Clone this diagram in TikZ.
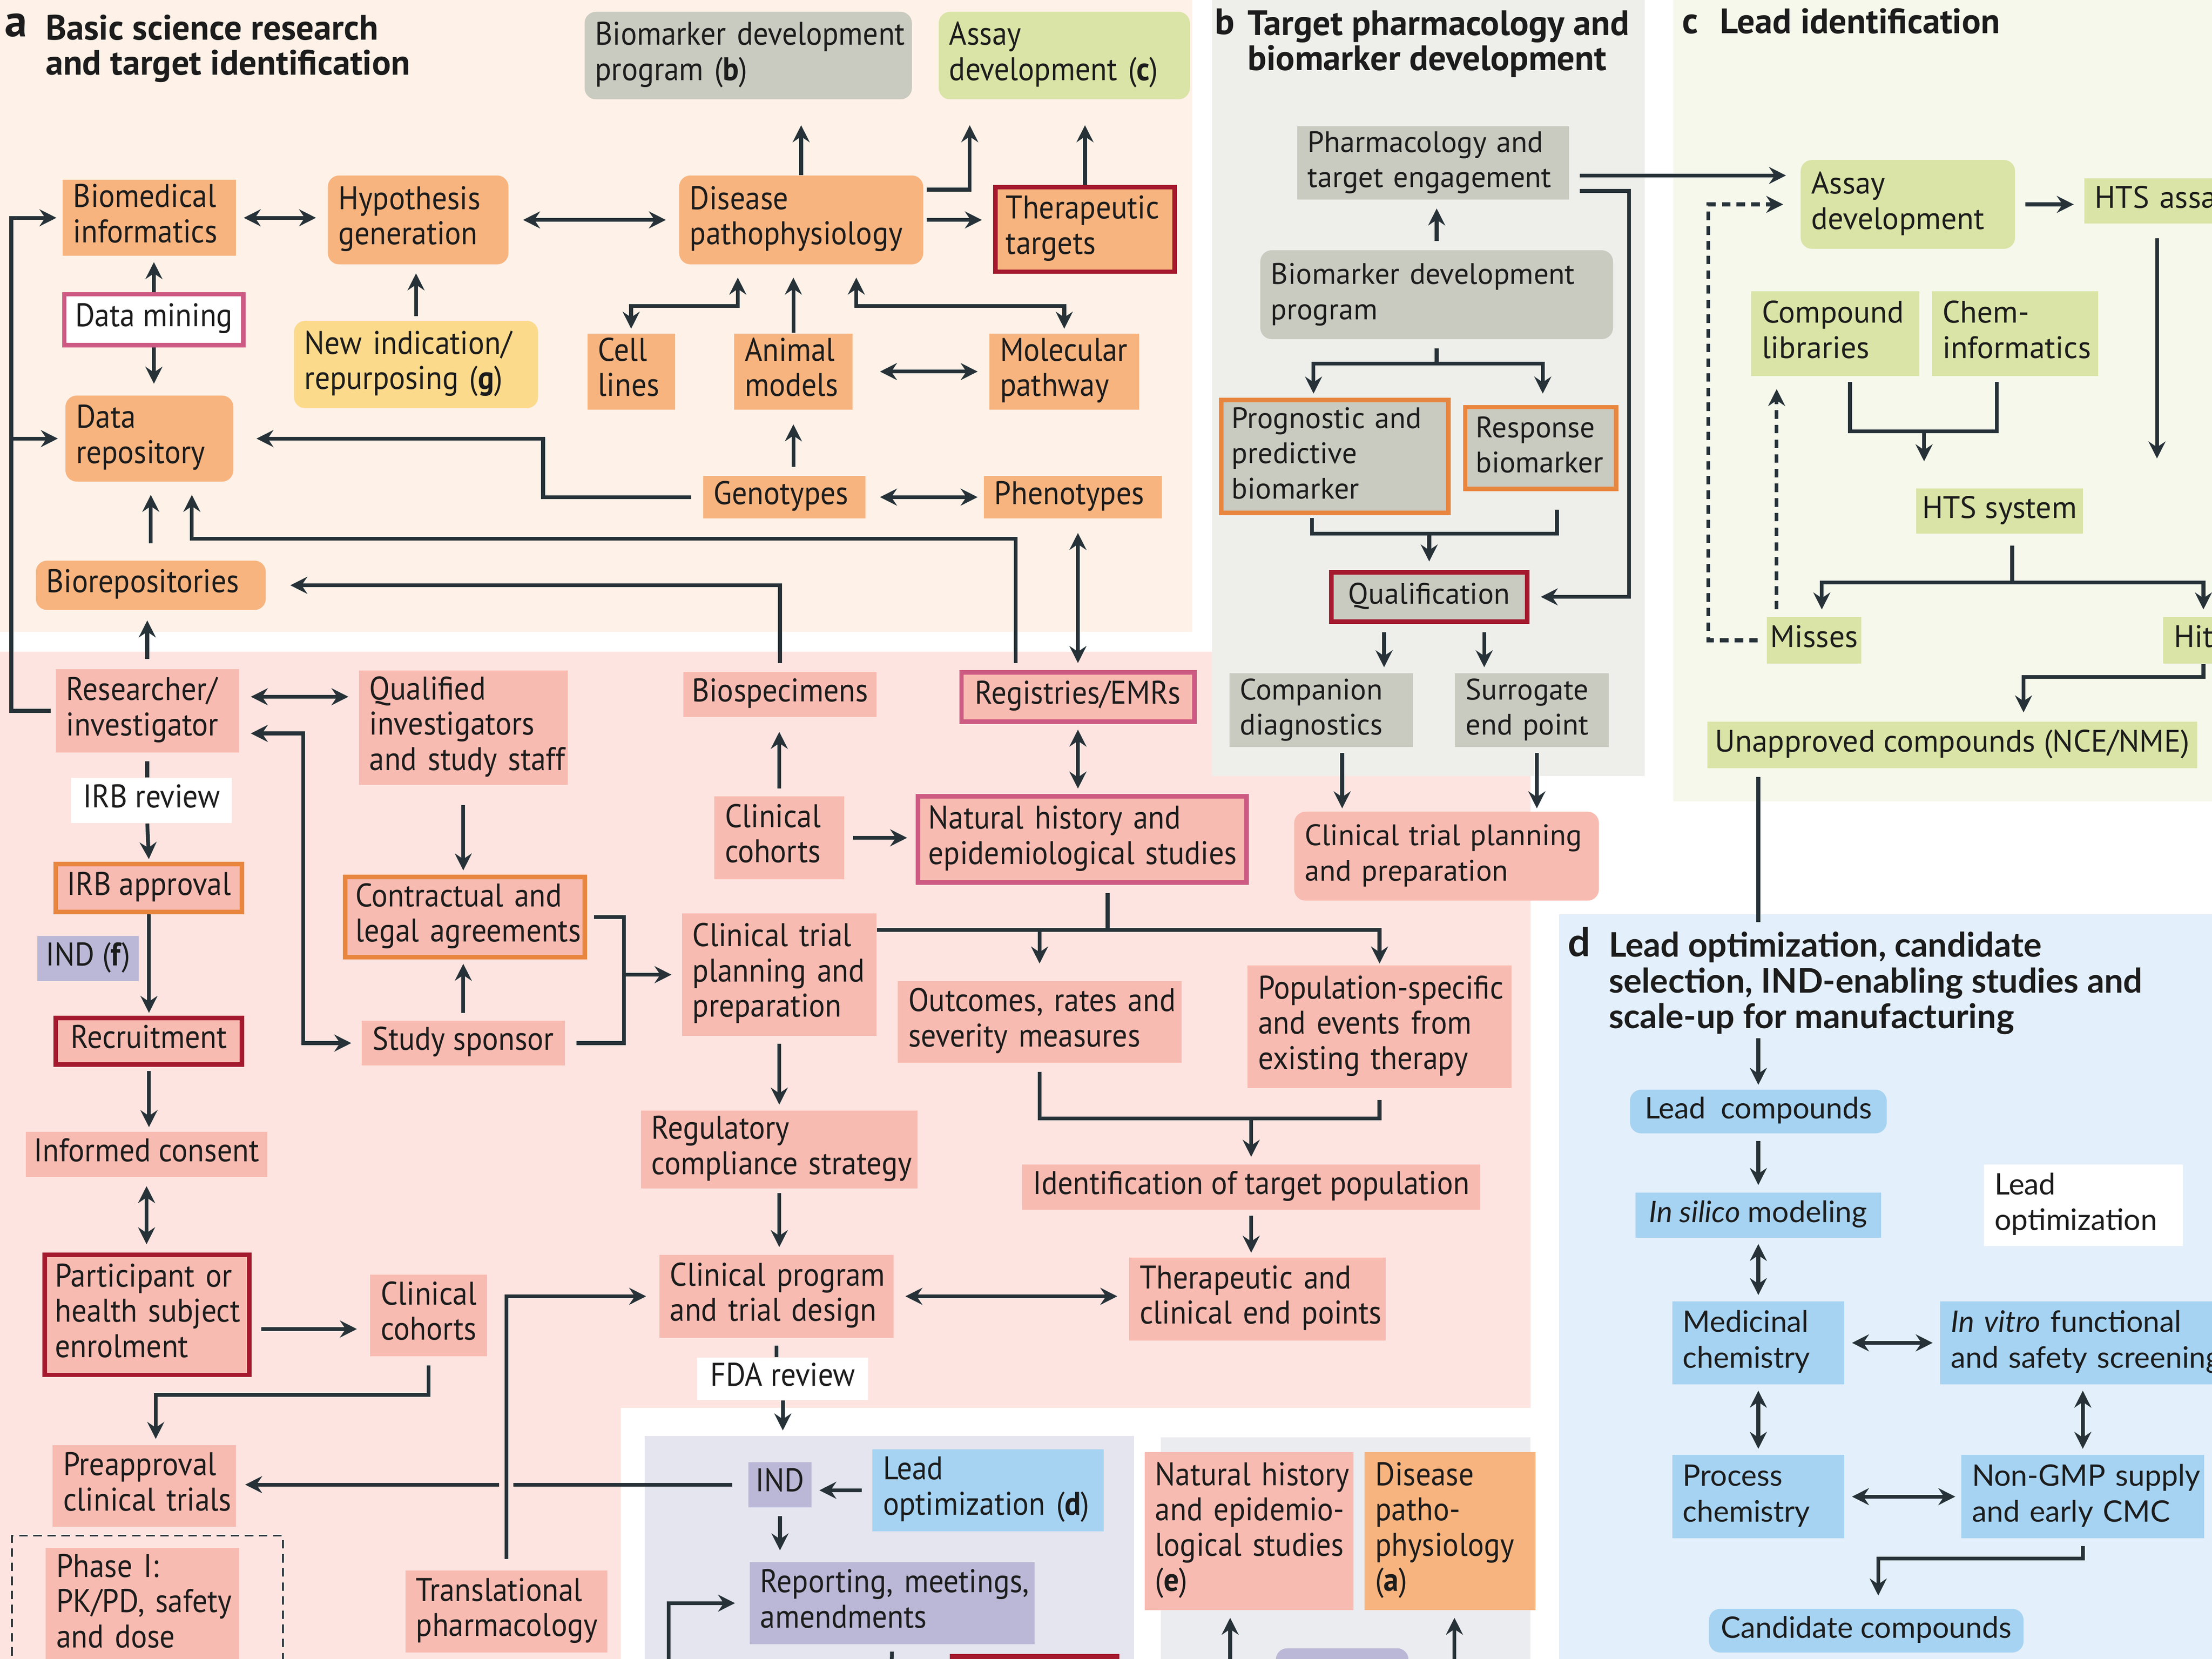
\documentclass[tikz,border=0pt]{standalone}
\usepackage{fontspec}
\setmainfont{PT Sans}
\newfontfamily\fcond[FakeStretch=0.92]{PT Sans}
\newfontfamily\fpt{PT Sans}
\newfontfamily\flato{Lato}
\usetikzlibrary{arrows.meta,calc}
\definecolor{txt}{HTML}{1C1C1C}
\definecolor{arrc}{HTML}{263238}
\definecolor{peachbg}{HTML}{FEF1E7}
\definecolor{pinkbg}{HTML}{FDE4E0}
\definecolor{greybg}{HTML}{EEEEEA}
\definecolor{greenbg}{HTML}{F6F8EB}
\definecolor{bluebg}{HTML}{E3EFFA}
\definecolor{lavbg}{HTML}{E4E5EE}
\definecolor{greytwobg}{HTML}{EBECF0}
\definecolor{orangef}{HTML}{F7B47F}
\definecolor{salf}{HTML}{F8BBB1}
\definecolor{greyf}{HTML}{C9CAC0}
\definecolor{greenf}{HTML}{D9E4A6}
\definecolor{yelf}{HTML}{FCDA8C}
\definecolor{lavf}{HTML}{BAB8D6}
\definecolor{bluef}{HTML}{A6D3F2}
\definecolor{redbc}{HTML}{A5192E}
\definecolor{magbc}{HTML}{CD5A82}
\definecolor{orbc}{HTML}{E8863F}
\newcommand\fntA{\fcond\fontsize{11.6}{12.5}\selectfont}
\newcommand\fntB{\fpt\fontsize{10.5}{12.5}\selectfont}
\newcommand\fntC{\fpt\fontsize{11}{12.5}\selectfont}
\newcommand\fntD{\flato\fontsize{10.5}{12.7}\selectfont}
\newcommand\mybox[7]{%
  \pgfmathsetmacro\bxw{(#5-#3)*0.5}%
  \pgfmathsetmacro\bxh{(#6-#4)*0.5}%
  \pgfmathsetmacro\bxt{(#5-#3)*0.5-7.5}%
  \node[boxbase,minimum width=\bxw pt,minimum height=\bxh pt,text width=\bxt pt,#2] (#1) at (#3,#4) {\begin{tabular}{@{}l@{}}#7\end{tabular}};%
}
\begin{document}
\begin{tikzpicture}[x=0.5pt,y=-0.5pt,
  boxbase/.style={anchor=north west,inner xsep=3.75pt,inner ysep=0pt,align=left,text=txt},
  oran/.style={fill=orangef}, sal/.style={fill=salf}, gry/.style={fill=greyf},
  grn/.style={fill=greenf}, yel/.style={fill=yelf}, lav/.style={fill=lavf},
  blu/.style={fill=bluef}, wht/.style={fill=white},
  rdb/.style={draw=redbc,line width=1.6pt}, mgb/.style={draw=magbc,line width=1.6pt},
  orgb/.style={draw=orbc,line width=1.6pt}, rnd/.style={rounded corners=4pt},
  ctr/.style={text width=,align=center,inner xsep=0pt},
  fA/.style={font=\fntA}, fB/.style={font=\fntB}, fC/.style={font=\fntC}, fD/.style={font=\fntD},
  dashbox/.style={draw=arrc,line width=0.6pt,dash pattern=on 3pt off 2pt},
  ln/.style={draw=arrc,line width=1.35pt},
  arr/.style={ln,-{Stealth[length=6pt,width=6pt,inset=2pt]}},
  dbl/.style={ln,{Stealth[length=6pt,width=6pt,inset=2pt]}-{Stealth[length=6pt,width=6pt,inset=2pt]}},
  dsh/.style={dash pattern=on 3pt off 2.2pt},
  halo/.style={preaction={draw=pinkbg,line width=5pt,arrows=-}}
]
\useasboundingbox (0,0) rectangle (1568,1176);
% backgrounds
\fill[pinkbg] (-5,462) -- (1085,462) -- (1085,998) -- (440,998) -- (440,1185) -- (-5,1185) -- cycle;
\fill[peachbg] (-5,-5) rectangle (845,448);
\fill[greybg] (859,-5) rectangle (1166,550);
\fill[greenbg] (1186,-5) rectangle (1575,568);
\fill[bluebg] (1105,648) rectangle (1575,1185);
\fill[lavbg] (457,1018) rectangle (804,1185);
\fill[greytwobg] (823,1019) rectangle (1085,1185);

% titles
\node[anchor=base west,inner sep=0pt,text=txt,font=\fpt\bfseries\fontsize{16}{16}\selectfont] (la) at (3,26) {a};
\node[anchor=north west,align=left,inner sep=0pt,text=txt,font=\fpt\bfseries\fontsize{12.5}{12.4}\selectfont] (ta) at (32,10) {Basic science research\\and target identification};
\node[anchor=base west,inner sep=0pt,text=txt,font=\fpt\bfseries\fontsize{13}{13}\selectfont] (lb) at (861,24.5) {b};
\node[anchor=north west,align=left,inner sep=0pt,text=txt,font=\fpt\bfseries\fontsize{12.5}{12.5}\selectfont] (tb) at (884,7) {Target pharmacology and\\biomarker development};
\node[anchor=base west,inner sep=0pt,text=txt,font=\fpt\bfseries\fontsize{13}{13}\selectfont] (lcc) at (1192,23.7) {c};
\node[anchor=base west,inner sep=0pt,text=txt,font=\fpt\bfseries\fontsize{12.5}{12.5}\selectfont] (tc) at (1219,23.7) {Lead identification};
\node[anchor=base west,inner sep=0pt,text=txt,font=\flato\bfseries\fontsize{14}{14}\selectfont] (ld) at (1111,678) {d};
\node[anchor=north west,align=left,inner sep=0pt,text=txt,font=\flato\bfseries\fontsize{12}{12.7}\selectfont] (td) at (1140,660) {Lead optimization, candidate\\selection, IND-enabling studies and\\scale-up for manufacturing};

% panel a nodes
\mybox{bm}{gry,rnd,fA}{414}{8}{646}{70}{Biomarker development\\program (\textbf{b})}
\mybox{acc}{grn,rnd,fA}{665}{8}{843}{70}{Assay\\development (\textbf{c})}
\mybox{bi}{oran,fA}{44}{127}{167}{181}{Biomedical\\informatics}
\mybox{hg}{oran,rnd,fA}{232}{124}{360}{187}{Hypothesis\\generation}
\mybox{dp}{oran,rnd,fA}{481}{124}{654}{187}{Disease\\pathophysiology}
\mybox{tt}{oran,rdb,fA}{704}{131}{831}{191}{Therapeutic\\targets}
\mybox{dm}{wht,mgb,ctr,fA}{44}{207}{171}{243}{Data mining}
\mybox{ni}{yel,rnd,fA}{208}{227}{381}{289}{New indication/\\repurposing (\textbf{g})}
\mybox{cl}{oran,fA}{416}{236}{478}{290}{Cell\\lines}
\mybox{am}{oran,fA}{520}{236}{604}{290}{Animal\\models}
\mybox{mp}{oran,fA}{701}{236}{807}{290}{Molecular\\pathway}
\mybox{dr}{oran,rnd,fA}{46}{280}{165}{341}{Data\\repository}
\mybox{gt}{oran,fA}{498}{337}{613}{367}{Genotypes}
\mybox{phe}{oran,fA}{697}{337}{823}{367}{Phenotypes}
\mybox{br}{oran,rnd,fA}{25}{397}{188}{432}{Biorepositories}

% clinical (pink) nodes
\mybox{ri}{sal,fA}{39}{474}{169}{533}{Researcher/\\investigator}
\mybox{qi}{sal,fA}{254}{475}{402}{556}{Qualified\\investigators\\and study staff}
\mybox{bs}{sal,ctr,fA}{484}{476}{621}{508}{Biospecimens}
\mybox{re}{sal,mgb,ctr,fA}{680}{475}{845}{510}{Registries/EMRs}
\mybox{ir}{wht,ctr,fA}{50}{551}{164}{583}{IRB review}
\mybox{ia}{sal,orgb,ctr,fA}{38}{611}{170}{645}{IRB approval}
\mybox{indf}{lav,ctr,fA}{26}{663}{98}{695}{IND (\textbf{f})}
\mybox{rc}{sal,rdb,ctr,fA}{38}{720}{170}{753}{Recruitment}
\mybox{ic}{sal,ctr,fA}{18}{802}{189}{834}{Informed consent}
\mybox{pe}{sal,rdb,fA}{30}{888}{175}{973}{Participant or\\health subject\\enrolment}
\mybox{cca}{sal,fA}{262}{903}{345}{961}{Clinical\\cohorts}
\mybox{cla}{sal,orgb,fA}{243}{620}{413}{677}{Contractual and\\legal agreements}
\mybox{ss}{sal,ctr,fA}{256}{723}{400}{755}{Study sponsor}
\mybox{ccb}{sal,fA}{506}{564}{598}{623}{Clinical\\cohorts}
\mybox{nh}{sal,mgb,fA}{649}{563}{882}{624}{Natural history and\\epidemiological studies}
\mybox{cp}{sal,fA}{483}{647}{621}{734}{Clinical trial\\planning and\\preparation}
\mybox{oc}{sal,fA}{636}{695}{837}{753}{Outcomes, rates and\\severity measures}
\mybox{ps}{sal,fA}{884}{684}{1071}{771}{Population-specific\\and events from\\existing therapy}
\mybox{rg}{sal,fA}{454}{787}{650}{842}{Regulatory\\compliance strategy}
\mybox{it}{sal,ctr,fA}{724}{825}{1049}{857}{Identification of target population}
\mybox{pg}{sal,fA}{467}{889}{633}{948}{Clinical program\\and trial design}
\mybox{te}{sal,fA}{800}{891}{982}{950}{Therapeutic and\\clinical end points}
\mybox{fda}{wht,ctr,fA}{494}{962}{615}{992}{FDA review}
\mybox{pa}{sal,fA}{37}{1024}{167}{1082}{Preapproval\\clinical trials}
\mybox{phbox}{dashbox}{8}{1088}{200}{1195}{}
\mybox{ph}{sal,fA}{32}{1097}{169}{1178}{Phase I:\\PK/PD, safety\\and dose}
\mybox{tp}{sal,fA}{287}{1113}{430}{1171}{Translational\\pharmacology}
\mybox{ind}{lav,ctr,fA}{530}{1036}{575}{1068}{IND}
\mybox{lo}{blu,fA}{618}{1027}{782}{1085}{Lead\\optimization (\textbf{d})}
\mybox{rp}{lav,fA}{531}{1107}{733}{1165}{Reporting, meetings,\\amendments}
\mybox{nhe}{sal,fA}{811}{1029}{959}{1141}{Natural history\\and epidemio-\\logical studies\\(\textbf{e})}
\mybox{dpa}{oran,fA}{967}{1029}{1088}{1141}{Disease\\patho-\\physiology\\(\textbf{a})}
\mybox{rcut}{fill=redbc,ctr}{673}{1172}{793}{1190}{}
\mybox{lcut}{fill=lavf,rnd,ctr}{904}{1168}{998}{1195}{}

% panel b nodes
\mybox{pte}{gry,fB}{919}{89}{1112}{141}{Pharmacology and\\target engagement}
\mybox{bdp}{gry,rnd,fB}{893}{177}{1143}{240}{Biomarker development\\program}
\mybox{ppb}{gry,orgb,fB}{864}{282}{1025}{362}{Prognostic and\\predictive\\biomarker}
\mybox{rb}{gry,orgb,fB}{1037}{287}{1144}{345}{Response\\biomarker}
\mybox{qu}{gry,rdb,ctr,fB}{942}{404}{1081}{439}{Qualification}
\mybox{cd}{gry,fB}{871}{477}{1001}{529}{Companion\\diagnostics}
\mybox{se}{gry,fB}{1031}{477}{1140}{529}{Surrogate\\end point}
\mybox{ctp}{sal,rnd,fB}{917}{575}{1133}{638}{Clinical trial planning\\and preparation}

% panel c nodes
\mybox{ad}{grn,rnd,fC}{1276}{113}{1428}{176}{Assay\\development}
\mybox{hts}{grn,fC}{1477}{126}{1620}{158}{HTS assay}
\mybox{clb}{grn,fC}{1241}{206}{1360}{266}{Compound\\libraries}
\mybox{ci}{grn,fC}{1369}{206}{1487}{266}{Chem-\\informatics}
\mybox{hs}{grn,ctr,fC}{1358}{346}{1476}{378}{HTS system}
\mybox{mi}{grn,ctr,fC}{1252}{437}{1319}{470}{Misses}
\mybox{hit}{grn,fC}{1533}{437}{1590}{470}{Hit}
\mybox{un}{grn,ctr,fC}{1210}{511}{1557}{544}{Unapproved compounds (NCE/NME)}

% panel d nodes
\mybox{lc}{blu,rnd,ctr,fD}{1155}{772}{1337}{803}{Lead~ compounds}
\mybox{is}{blu,ctr,fD}{1159}{845}{1333}{877}{\textit{In silico} modeling}
\mybox{lopt}{wht,fD}{1406}{825}{1547}{883}{Lead\\optimization}
\mybox{mc}{blu,fD}{1185}{922}{1307}{981}{Medicinal\\chemistry}
\mybox{iv}{blu,fD}{1375}{922}{1620}{981}{\textit{In vitro} functional\\and safety screening}
\mybox{pc}{blu,fD}{1185}{1031}{1307}{1090}{Process\\chemistry}
\mybox{ng}{blu,fD}{1390}{1031}{1562}{1090}{Non-GMP supply\\and early CMC}
\mybox{cdc}{blu,rnd,ctr,fD}{1211}{1140}{1434}{1171}{Candidate compounds}

% ---------- connectors panel a
\draw[dbl,shorten <=2.5pt,shorten >=4pt] (bi.east) -- (bi.east -| hg.west);
\draw[dbl,shorten <=5pt,shorten >=4.5pt] (hg.east) -- (hg.east -| dp.west);
\draw[arr,shorten <=1pt,shorten >=4pt] (dp.east) -- (dp.east -| tt.west);
\draw[arr,shorten >=9pt] (dp.north) -- (dp.north |- bm.south);
\draw[arr,shorten >=9pt] ($(dp.east)+(2,-21.5)$) -| ($(acc.south)+(-67,0)$);
\draw[arr,shorten >=9pt] (tt.north) -- (tt.north |- acc.south);
\draw[arr,shorten >=2pt] (dm.north) -- (dm.north |- bi.south);
\draw[arr,shorten >=4pt] (dm.south) -- (dm.south |- dr.north);
\draw[arr,shorten <=1.5pt,shorten >=3pt] (ni.north) -- (ni.north |- hg.south);
\draw[dbl,shorten <=4.5pt,shorten >=1.5pt] ($(dp.south west)+(42,0)$) -- ++(0,29) -| (cl.north);
\draw[dbl,shorten <=4.5pt,shorten >=1.5pt] ($(dp.south west)+(126,0)$) -- ++(0,29) -| (mp.north);
\draw[arr,shorten >=4.5pt] (am.north) -- (am.north |- dp.south);
\draw[dbl,shorten <=9.5pt,shorten >=4pt] (am.east) -- (am.east -| mp.west);
\draw[arr,shorten <=3pt,shorten >=5pt] (am.south |- gt.north) -- (am.south);
\draw[dbl,shorten <=5pt,shorten >=2pt] (gt.east) -- (gt.east -| phe.west);
\draw[arr,shorten <=4pt,shorten >=8pt] (gt.west) -- ++(-113,0) |- (dr.east);
\draw[arr,shorten <=2.5pt,shorten >=4.5pt] ($(re.north west)+(40,0)$) |- ($(dr.south west)+(90,40)$) -- ($(dr.south west)+(90,0)$);
\draw[arr,shorten <=6pt,shorten >=4.5pt] (br.north) -- (br.north |- dr.south);
\draw[arr,shorten <=3pt,shorten >=8.5pt] (bs.north) |- (br.east);
\draw[dbl,shorten <=2.5pt,shorten >=5pt] (re.north) -- (re.north |- phe.south);
\draw[arr,shorten <=3.5pt,shorten >=3.5pt] (ri.north) -- (ri.north |- br.south);
\draw[arr,shorten <=1.5pt,shorten >=2pt] (ri.west) -- ++(-31,0) |- (bi.west);
\draw[arr,shorten >=2.5pt] ($(ri.west)+(-31,0)$) |- (dr.west);

% ---------- connectors clinical
\coordinate (r1) at ([yshift=5pt]ri.east);
\coordinate (r2) at ([yshift=-8pt]ri.east);
\draw[dbl,shorten <=4pt,shorten >=3.5pt] (r1) -- (r1 -| qi.west);
\draw[dbl,shorten <=3.5pt,shorten >=4pt] (ss.west) -- ++(-41,0) |- (r2);
\draw[arr,shorten <=7pt,shorten >=1.5pt] (qi.south) -- (qi.south |- cla.north);
\draw[arr,shorten <=2.5pt,shorten >=1.5pt] (ss.north) -- (ss.north |- cla.south);
\draw[ln,shorten <=2.5pt,shorten >=4pt] (cla.east) -- ++(26,0) coordinate (bk) |- (ss.east);
\draw[arr,shorten >=3.5pt] (bk |- cp.west) -- (cp.west);
\draw[ln,shorten <=3pt] (ri.south) -- (ri.south |- ir.north);
\draw[arr,shorten >=1pt] (ri.south |- ir.south) -- (ia.north);
\draw[arr,shorten >=1pt] (ia.south) -- (rc.north);
\draw[arr,shorten <=1.5pt,shorten >=1.5pt] (rc.south) -- (rc.south |- ic.north);
\draw[dbl,shorten <=3pt,shorten >=3pt] (ic.south) -- (ic.south |- pe.north);
\coordinate (p1) at ([yshift=-5pt]pe.east);
\draw[arr,shorten <=3.5pt,shorten >=4.5pt] (p1) -- (p1 -| cca.west);
\draw[arr,shorten <=3pt,shorten >=2pt] (cca.south) -- ++(0,27) -| ($(pa.north)+(8,0)$);
\draw[arr,shorten <=2.5pt,shorten >=5pt] (ccb.north) -- (ccb.north |- bs.south);
\draw[dbl,shorten <=2pt,shorten >=2pt] (re.south) -- (re.south |- nh.north);
\draw[arr,shorten <=3pt,shorten >=3pt] (ccb.east) -- (ccb.east -| nh.west);
\draw[ln,shorten <=3pt] ([xshift=9pt]nh.south) -- ++(0,32) coordinate (nb);
\draw[arr,shorten >=0.5pt] (cp.east |- nb) -| (ps.north);
\draw[arr,shorten >=6pt] (oc.north |- nb) -- (oc.north);
\coordinate (ob) at ($(ps.south)+(0,21)$);
\draw[ln,shorten <=3pt,shorten >=4pt] (oc.south) |- (ob) -- (ps.south);
\draw[arr,shorten >=2.5pt] (ob -| it.north) -- (it.north);
\draw[arr,shorten <=2pt,shorten >=1.5pt] (it.south) -- (it.south |- te.north);
\draw[arr,shorten <=2.5pt,shorten >=2pt] (cp.south) -- (cp.south |- rg.north);
\draw[arr,shorten <=1.5pt,shorten >=2.5pt] (rg.south) -- (rg.south |- pg.north);
\draw[dbl,shorten <=4pt,shorten >=4pt] (pg.east) -- (pg.east -| te.west);
\draw[ln,shorten <=2.5pt] (pg.south) -- (pg.south |- fda.north);
\draw[arr,shorten >=11pt] (fda.south) -- (fda.south |- ind.north);
\draw[arr,shorten <=5.5pt,shorten >=3pt] (ind.west) -- (ind.west -| pa.east);
\draw[arr,halo,shorten <=4pt,shorten >=4.5pt] (tp.north) |- (pg.west);
\draw[arr,shorten <=3.5pt,shorten >=2.5pt] (lo.west) -- (lo.west -| ind.east);
\draw[arr,shorten <=3pt,shorten >=4pt] (ind.south) -- (ind.south |- rp.north);
\coordinate (rpin) at (474,1185);
\coordinate (rpout) at (632,1185);
\draw[arr,shorten >=5pt] (rpin) |- (rp.west);
\draw[ln,shorten <=2.5pt] (rp.south) -- (rpout);
\coordinate (ein) at (872,1185);
\coordinate (ain) at (1031,1185);
\draw[arr,shorten >=2.5pt] (ein) -- (ein |- nhe.south);
\draw[arr,shorten >=2.5pt] (ain) -- (ain |- dpa.south);

% ---------- connectors panel b
\coordinate (pa1) at ([yshift=-4.5pt]pte.east);
\coordinate (pq1) at ([yshift=-10pt]pte.east);
\draw[arr,shorten <=3.5pt,shorten >=5pt] (pa1) -- (pa1 -| ad.west);
\draw[arr,shorten <=3.5pt,shorten >=4pt] (pq1) -- ++(42,0) |- (qu.east);
\draw[arr,shorten <=3pt,shorten >=3pt] (bdp.north) -- (bdp.north |- pte.south);
\draw[ln,shorten <=3pt] (bdp.south) -- ++(0,17) coordinate (bb);
\draw[arr,shorten >=1.5pt] (bb) -| ($(ppb.north)+(-15,0)$);
\draw[arr,shorten >=4pt] (bb) -| ($(rb.north)+(1.5,0)$);
\coordinate (qb) at ($(rb.south)+(11.5,30)$);
\draw[ln,shorten <=1pt] ($(ppb.south)+(-16,0)$) |- (qb) -- ($(rb.south)+(11.5,13)$);
\draw[arr,shorten >=3pt] (qb -| qu.north) -- (qu.north);
\path (qu.south) ++(-32,0) coordinate (q1) ++(71,0) coordinate (q2);
\draw[arr,shorten <=3pt,shorten >=2pt] (q1) -- (q1 |- cd.north);
\draw[arr,shorten <=3pt,shorten >=2pt] (q2) -- (q2 |- se.north);
\path (cd.south) ++(15,0) coordinate (c1);
\path (se.south) ++(3.5,0) coordinate (s1);
\draw[arr,shorten <=2pt,shorten >=1pt] (c1) -- (c1 |- ctp.north);
\draw[arr,shorten <=2pt,shorten >=1pt] (s1) -- (s1 |- ctp.north);

% ---------- connectors panel c
\draw[arr,shorten <=3.5pt,shorten >=3.5pt] (ad.east) -- (ad.east -| hts.west);
\coordinate (htsend) at (1529,325);
\draw[arr,shorten <=5pt] (htsend |- hts.south) -- (htsend);
\coordinate (cb) at ($(clb.south)+(63,39)$);
\draw[ln,shorten <=2pt,shorten >=2pt] ($(clb.south)+(10.5,0)$) |- ($(ci.south)+(-13,39)$) -- ($(ci.south)+(-13,0)$);
\draw[arr,shorten >=9.5pt] (cb) -- (cb |- hs.north);
\draw[ln,shorten <=4pt] ($(hs.south)+(9,0)$) -- ++(0,34) coordinate (hb);
\draw[arr,shorten >=2.5pt] (hb) -| ($(mi.north)+(5.5,0)$);
\draw[arr,shorten >=2.5pt] (hb) -| (hit.north);
\draw[arr,shorten >=3pt] (hit.south) -- ++(0,9) -| ($(un.north)+(50.5,0)$);
\draw[arr,dsh,shorten <=3pt,shorten >=6pt] (mi.west) -- ++(-41,0) |- (ad.west);
\coordinate (m1) at ($(mi.north)+(-26.5,0)$);
\draw[arr,dsh,shorten <=2.5pt,shorten >=4.5pt] (m1) -- (m1 |- clb.south);
\draw[ln,shorten <=3pt] ($(un.south)+(-137.5,0)$) -- ++(0,109);

% ---------- connectors panel d
\draw[arr,shorten >=1.5pt] ($(lc.north)+(0,-36)$) -- (lc.north);
\draw[arr,shorten <=2.5pt,shorten >=2.5pt] (lc.south) -- (lc.south |- is.north);
\draw[dbl,shorten <=2pt,shorten >=2pt] (is.south) -- (is.south |- mc.north);
\draw[dbl,shorten <=2pt,shorten >=2pt] (mc.south) -- (mc.south |- pc.north);
\draw[dbl,shorten <=2.5pt,shorten >=2.5pt] (mc.east) -- (mc.east -| iv.west);
\draw[dbl,shorten <=2pt,shorten >=2pt] (ng.north) -- (ng.north |- iv.south);
\draw[dbl,shorten <=2.5pt,shorten >=2pt] (pc.east) -- (pc.east -| ng.west);
\draw[arr,shorten <=2.5pt,shorten >=4.5pt] (ng.south) -- ++(0,14) -| ($(cdc.north)+(8.5,0)$);
\end{tikzpicture}
\end{document}
